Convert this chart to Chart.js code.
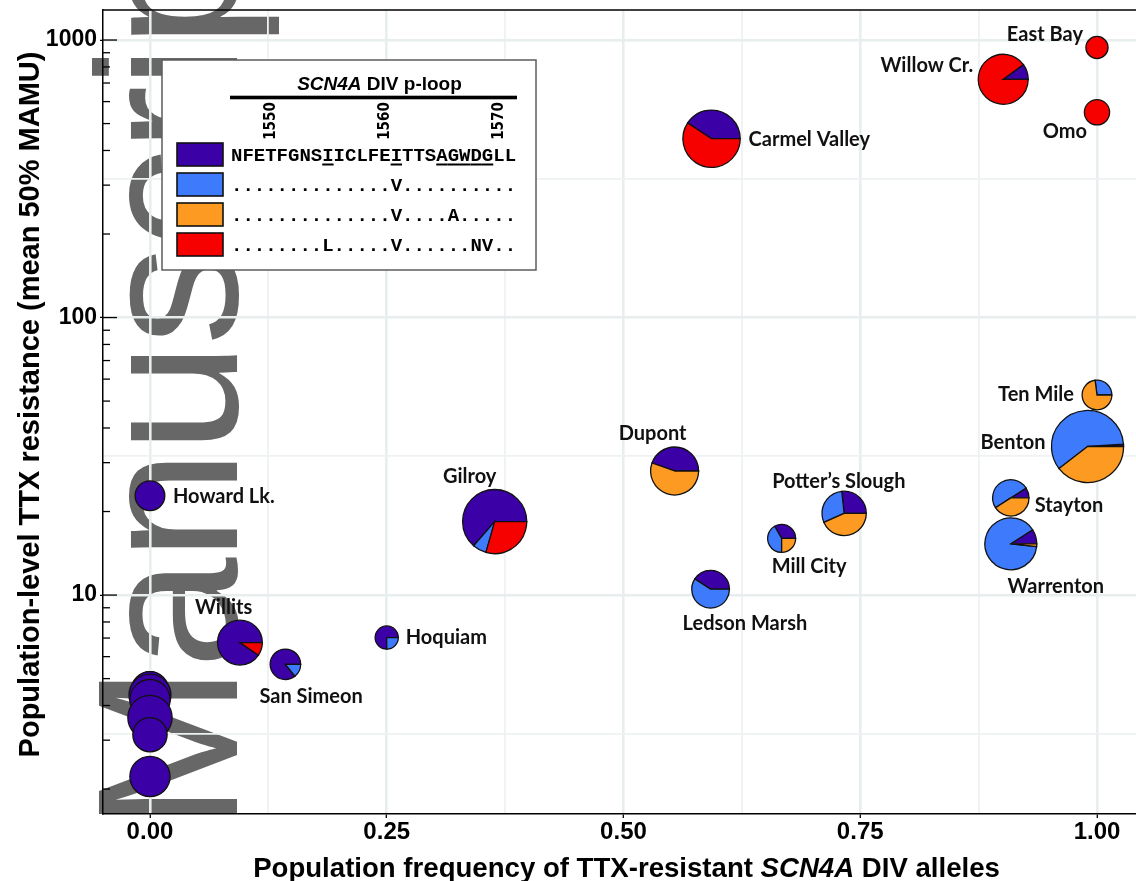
<!DOCTYPE html>
<html lang="en">
<head>
<meta charset="UTF-8">
<title>TTX resistance vs SCN4A DIV allele frequency</title>
<script src="https://cdn.jsdelivr.net/npm/chart.js"></script>
<style>
  html, body { margin: 0; padding: 0; background: #fff; overflow: hidden; }
  canvas { display: block; }
</style>
</head>
<body>
<canvas id="chart" width="1136" height="881"></canvas>
<script>
// ---- data ----
var populations = ['East Bay', 'Omo', 'Willow Cr.', 'Carmel Valley', 'Ten Mile', 'Benton', 'Stayton',
    'Warrenton', 'Dupont', 'Potter\u2019s Slough', 'Mill City', 'Ledson Marsh', 'Gilroy', 'Howard Lk.',
    'Willits', 'San Simeon', 'Hoquiam', '', '', '', '', '', '', ''];
// population frequency of TTX-resistant SCN4A DIV alleles
var resistantFreq = [1.00, 1.00, 0.901, 0.593, 1.00, 0.990, 0.909, 0.909, 0.554, 0.733, 0.667, 0.592,
    0.364, 0.00, 0.095, 0.143, 0.250, 0.00, 0.00, 0.00, 0.00, 0.00, 0.00, 0.00];
// population-level TTX resistance (mean 50% MAMU)
var meanMAMU = [940, 549, 722, 441, 52.6, 34.3, 22.4, 15.3, 28.0, 19.7, 16.0, 10.5,
    18.4, 22.8, 6.74, 5.63, 7.03, 4.64, 4.53, 4.36, 4.20, 3.62, 3.14, 2.22];
// number of animals sampled (pie area)
var sampleSize = [10, 13, 51, 67, 18, 106, 27, 55, 47, 40, 16, 29, 84, 18, 41, 19, 11, 21, 29, 36, 33, 40, 24, 33];
// allele frequencies inside each population
var alleleWT   = [0, 0, 0.10, 0.407, 0, 0.010, 0.091, 0.091, 0.446, 0.267, 0.333, 0.408, 0.636, 1, 0.905, 0.857, 0.75, 1, 1, 1, 1, 1, 1, 1];
var alleleV    = [0, 0, 0, 0, 0.27, 0.595, 0.50, 0.892, 0, 0.30, 0.417, 0.592, 0.07, 0, 0, 0.143, 0.25, 0, 0, 0, 0, 0, 0, 0];
var alleleVA   = [0, 0, 0, 0, 0.73, 0.395, 0.409, 0.017, 0.554, 0.433, 0.25, 0, 0, 0, 0, 0, 0, 0, 0, 0, 0, 0, 0, 0];
var alleleLVNV = [1, 1, 0.90, 0.593, 0, 0, 0, 0, 0, 0, 0, 0, 0.294, 0, 0.095, 0, 0, 0, 0, 0, 0, 0, 0, 0];

// axes
var xTickValues = [0, 0.25, 0.5, 0.75, 1];
var xTickLabels = ['0.00', '0.25', '0.50', '0.75', '1.00'];
var xMinorGrid = [0.125, 0.375, 0.625, 0.875];
var yTickValues = [10, 100, 1000];
var yTickLabels = ['10', '100', '1000'];
var yMinorGrid = [3.1623, 31.623, 316.23];

// legend: SCN4A DIV p-loop alignment
var alleleSeqs = [
    'NFETFGNSIICLFEITTSAGWDGLL',
    '..............V..........',
    '..............V....A.....',
    '........L.....V......NV..'
];
var seqUnderlined = [8, 14, 18, 19, 20, 21, 22];
var seqPosLabels = ['1550', '1560', '1570'];
var seqPosIndex = [3, 13, 23];

var colors = ['#3b00a6', '#3d7bfc', '#fd9a22', '#f70000'];

// label placement next to each pie: [dx, dy, align]
var labelLayout = {
    'East Bay': [-14, -13, 'right'], 'Omo': [-32, 19, 'center'], 'Willow Cr.': [-30, -14, 'right'],
    'Carmel Valley': [37, 1, 'left'], 'Ten Mile': [-23, 0, 'right'], 'Benton': [-42, -4, 'right'],
    'Stayton': [24, 8, 'left'], 'Warrenton': [45, 43, 'center'], 'Dupont': [-22, -37, 'center'],
    'Potter\u2019s Slough': [-72, -32, 'left'], 'Mill City': [-10, 28, 'left'],
    'Ledson Marsh': [-28, 34, 'left'], 'Gilroy': [-25, -45, 'center'], 'Howard Lk.': [23, 1, 'left'],
    'Willits': [-45, -35, 'left'], 'San Simeon': [-26, 32, 'left'], 'Hoquiam': [19, 0, 'left']
};

function pieRadius(n) { return 3.5 * Math.sqrt(n); }
function isDecade(v) { var l = Math.log10(v); return Math.abs(l - Math.round(l)) < 1e-6; }

var gridMajor = '#e8eeee';
var gridMinor = '#eef2f2';

var watermark = {
    id: 'watermark',
    beforeDraw: function (chart) {
        var c = chart.ctx;
        c.save();
        c.beginPath();
        c.rect(0, 0, chart.width, chart.chartArea.bottom);
        c.clip();
        c.translate(237, 832);
        c.rotate(-Math.PI / 2);
        c.font = '200px "Liberation Sans", Arial, sans-serif';
        c.letterSpacing = '-3.4px';
        c.fillStyle = '#676767';
        c.textAlign = 'left';
        c.textBaseline = 'alphabetic';
        c.fillText('Manuscript', 0, 0);
        c.restore();
    }
};

var pies = {
    id: 'pies',
    afterDatasetsDraw: function (chart) {
        var c = chart.ctx;
        var meta = chart.getDatasetMeta(0);
        meta.data.forEach(function (pt, i) {
            var r = pieRadius(sampleSize[i]);
            var fr = [alleleWT[i], alleleV[i], alleleVA[i], alleleLVNV[i]];
            var a = 0;
            c.save();
            c.lineWidth = 1.3;
            c.strokeStyle = '#111';
            fr.forEach(function (f, k) {
                if (f <= 0) return;
                var b = a + f * 2 * Math.PI;
                c.beginPath();
                if (f >= 0.999) {
                    c.arc(pt.x, pt.y, r, 0, 2 * Math.PI);
                } else {
                    c.moveTo(pt.x, pt.y);
                    c.arc(pt.x, pt.y, r, -a, -b, true);
                    c.closePath();
                }
                c.fillStyle = colors[k];
                c.fill();
                c.stroke();
                a = b;
            });
            c.restore();
        });

        c.save();
        c.font = 'bold 20px Lato, "Open Sans", sans-serif';
        c.fillStyle = '#111';
        c.textBaseline = 'middle';
        meta.data.forEach(function (pt, i) {
            var lay = labelLayout[populations[i]];
            if (!lay) return;
            c.textAlign = lay[2];
            c.fillText(populations[i], pt.x + lay[0], pt.y + lay[1]);
        });
        c.restore();
    }
};

var decor = {
    id: 'decor',
    afterDraw: function (chart) {
        var c = chart.ctx;
        var area = chart.chartArea;
        var ys = chart.scales.y;
        c.save();

        // top frame line
        c.strokeStyle = '#000';
        c.lineWidth = 1.5;
        c.beginPath();
        c.moveTo(area.left, area.top);
        c.lineTo(area.right, area.top);
        c.stroke();

        // log ticks on the inside of the y axis
        c.lineWidth = 1.3;
        for (var e = 0; e <= 3; e++) {
            for (var m = 1; m <= 9; m++) {
                var v = m * Math.pow(10, e);
                if (v < ys.min || v > ys.max) continue;
                var py = ys.getPixelForValue(v);
                c.beginPath();
                c.moveTo(area.left, py);
                c.lineTo(area.left + (m === 1 ? 14 : 7), py);
                c.stroke();
            }
        }

        // legend box
        c.fillStyle = '#fff';
        c.fillRect(162, 60, 374, 210);
        c.strokeStyle = '#5c5c5c';
        c.lineWidth = 1.5;
        c.strokeRect(162, 60, 374, 210);

        c.fillStyle = '#000';
        c.textBaseline = 'alphabetic';
        c.textAlign = 'left';
        var f1 = 'italic bold 19px "Liberation Sans", Arial, sans-serif';
        var f2 = 'bold 19px "Liberation Sans", Arial, sans-serif';
        c.font = f1;
        var w1 = c.measureText('SCN4A').width;
        c.font = f2;
        var w2 = c.measureText(' DIV p-loop').width;
        var tx = 379.5 - (w1 + w2) / 2;
        c.font = f1;
        c.fillText('SCN4A', tx, 90);
        c.font = f2;
        c.fillText(' DIV p-loop', tx + w1, 90);
        c.fillRect(230, 95.7, 287, 3.6);

        c.font = 'bold 19px "Liberation Mono", "DejaVu Sans Mono", monospace';
        var charW = c.measureText('N').width;
        var seqX = 231;

        c.save();
        c.font = 'bold 15px "Liberation Sans Narrow", "DejaVu Sans Condensed", sans-serif';
        c.textAlign = 'center';
        c.textBaseline = 'middle';
        seqPosLabels.forEach(function (lab, k) {
            c.save();
            c.translate(seqX + (seqPosIndex[k] + 0.5) * charW, 121);
            c.rotate(-Math.PI / 2);
            c.fillText(lab, 0, 0);
            c.restore();
        });
        c.restore();

        alleleSeqs.forEach(function (s, k) {
            var by = 161 + 30 * k;
            c.fillStyle = colors[k];
            c.fillRect(177, 143 + 30 * k, 46, 23);
            c.strokeStyle = '#111';
            c.lineWidth = 1.6;
            c.strokeRect(177, 143 + 30 * k, 46, 23);
            c.fillStyle = '#000';
            c.fillText(s, seqX, by);
        });
        seqUnderlined.forEach(function (idx) {
            c.fillRect(seqX + idx * charW, 163.5, charW, 2);
        });

        // axis titles
        var ft = 'bold 27.6px "Liberation Sans", Arial, sans-serif';
        var fti = 'italic bold 27.6px "Liberation Sans", Arial, sans-serif';
        var parts = [['Population frequency of TTX-resistant ', ft], ['SCN4A', fti], [' DIV alleles', ft]];
        var total = 0;
        parts.forEach(function (p) { c.font = p[1]; p.push(c.measureText(p[0]).width); total += p[2]; });
        var px = 626.5 - total / 2;
        parts.forEach(function (p) { c.font = p[1]; c.fillText(p[0], px, 877); px += p[2]; });

        c.save();
        c.translate(39, 404.5);
        c.rotate(-Math.PI / 2);
        c.textAlign = 'center';
        c.font = 'bold 29px "Liberation Sans", Arial, sans-serif';
        c.fillText('Population-level TTX resistance (mean 50% MAMU)', 0, 0);
        c.restore();

        c.restore();
    }
};

var points = resistantFreq.map(function (x, i) { return { x: x, y: meanMAMU[i] }; });

new Chart(document.getElementById('chart'), {
    type: 'scatter',
    data: {
        datasets: [{
            label: 'populations',
            data: points,
            pointRadius: function (ctx) { return pieRadius(sampleSize[ctx.dataIndex]); },
            pointBackgroundColor: 'rgba(0,0,0,0)',
            pointBorderColor: 'rgba(0,0,0,0)',
            pointBorderWidth: 0,
            clip: false
        }]
    },
    options: {
        responsive: false,
        animation: false,
        events: [],
        layout: { autoPadding: false, padding: { top: 10, left: 0, right: 0, bottom: 0 } },
        plugins: { legend: { display: false }, tooltip: { enabled: false } },
        scales: {
            x: {
                type: 'linear',
                min: -0.0496,
                max: 1.0412,
                afterBuildTicks: function (s) {
                    s.ticks = xTickValues.concat(xMinorGrid).sort(function (a, b) { return a - b; })
                        .map(function (v) { return { value: v }; });
                },
                afterFit: function (s) { s.height = 67; s.paddingLeft = 0; s.paddingRight = 0; },
                ticks: {
                    autoSkip: false,
                    maxRotation: 0,
                    padding: 0,
                    color: '#000',
                    font: { family: '"Liberation Sans", Arial, sans-serif', size: 24, weight: 'bold' },
                    callback: function (v) {
                        var k = xTickValues.indexOf(v);
                        return k >= 0 ? xTickLabels[k] : '';
                    }
                },
                grid: {
                    color: function (c) { return xTickValues.indexOf(c.tick.value) >= 0 ? gridMajor : gridMinor; },
                    lineWidth: function (c) { return xTickValues.indexOf(c.tick.value) >= 0 ? 2.6 : 1.8; },
                    drawTicks: true,
                    tickLength: 4,
                    tickWidth: 1.3,
                    tickColor: function (c) { return xTickValues.indexOf(c.tick.value) >= 0 ? '#000' : 'rgba(0,0,0,0)'; }
                },
                border: { display: true, color: '#000', width: 1.5 }
            },
            y: {
                type: 'logarithmic',
                min: 1.626,
                max: 1283,
                afterBuildTicks: function (s) {
                    s.ticks = yMinorGrid.concat(yTickValues).sort(function (a, b) { return a - b; })
                        .map(function (v) { return { value: v }; });
                },
                afterFit: function (s) { s.width = 103; s.paddingTop = 0; s.paddingBottom = 0; },
                ticks: {
                    padding: 3,
                    color: '#000',
                    font: { family: '"Liberation Sans", Arial, sans-serif', size: 23, weight: 'bold' },
                    callback: function (v) {
                        for (var k = 0; k < yTickValues.length; k++) {
                            if (Math.abs(yTickValues[k] - v) < 1e-6) return yTickLabels[k];
                        }
                        return '';
                    }
                },
                grid: {
                    color: function (c) { return isDecade(c.tick.value) ? gridMajor : gridMinor; },
                    lineWidth: function (c) { return isDecade(c.tick.value) ? 2.6 : 1.8; },
                    drawTicks: true,
                    tickLength: 3,
                    tickWidth: 1.3,
                    tickColor: function (c) { return isDecade(c.tick.value) ? '#000' : 'rgba(0,0,0,0)'; }
                },
                border: { display: true, color: '#000', width: 1.5 }
            }
        }
    },
    plugins: [watermark, pies, decor]
});
</script>
</body>
</html>
